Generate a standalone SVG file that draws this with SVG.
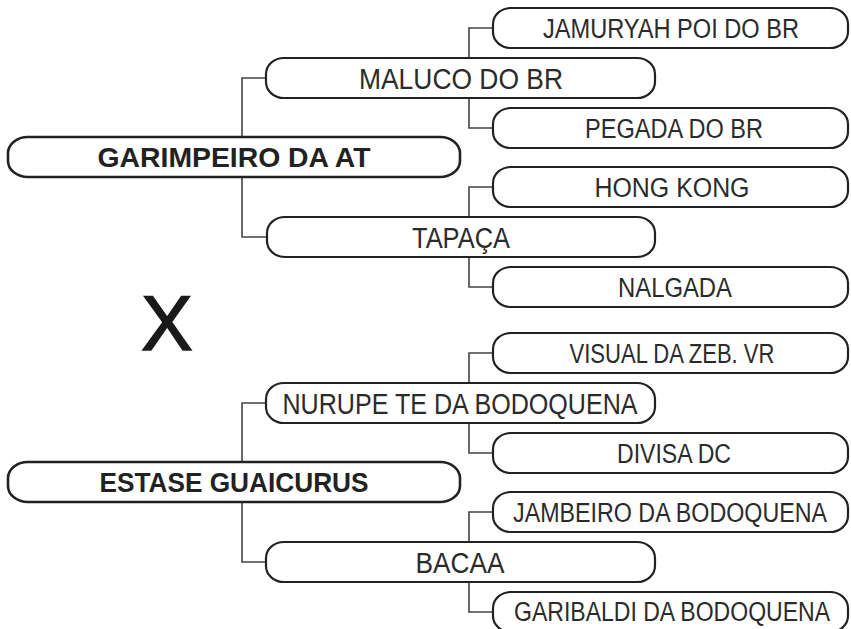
<svg xmlns="http://www.w3.org/2000/svg" width="851" height="629" viewBox="0 0 851 629">
<style>
.box{fill:#fff;stroke:#222;stroke-width:2.2}
.main{fill:#fff;stroke:#222;stroke-width:2.6}
.con{fill:none;stroke:#444;stroke-width:1.6}
text{font-family:"Liberation Sans",Arial,sans-serif;text-anchor:middle;fill:#2b2b2b}
.tm{font-size:28px;font-weight:bold;fill:#222}
.t1{font-size:29px}
.t2{font-size:27px}
.x{font-size:77px;fill:#1a1a1a;stroke:#1a1a1a;stroke-width:1.6}
</style>
<rect width="851" height="629" fill="#fff"/>
<g id="connectors">
<path class="con" d="M266,78 H242 V137 M242,177 V237 H267"/>
<path class="con" d="M493,28 H469 V58 M469,98 V128 H493"/>
<path class="con" d="M493,187 H469 V217 M469,257 V287 H493"/>
<path class="con" d="M266,403 H242 V462 M242,502 V562 H266"/>
<path class="con" d="M493,353 H469 V383 M469,423 V453 H493"/>
<path class="con" d="M493,512 H469 V542 M469,582 V612 H493"/>
</g>
<g id="n-garimpeiro"><rect class="main" x="8" y="137" width="452" height="40" rx="20" ry="16"/><text class="tm" x="234" y="167" textLength="273" lengthAdjust="spacingAndGlyphs">GARIMPEIRO DA AT</text></g>
<g id="n-maluco"><rect class="box" x="266" y="58" width="389" height="40" rx="18" ry="16"/><text class="t1" x="461" y="89" textLength="204" lengthAdjust="spacingAndGlyphs">MALUCO DO BR</text></g>
<g id="n-jamuryah"><rect class="box" x="493" y="8" width="355" height="40" rx="18" ry="16"/><text class="t2" x="671" y="38" textLength="256" lengthAdjust="spacingAndGlyphs">JAMURYAH POI DO BR</text></g>
<g id="n-pegada"><rect class="box" x="493" y="108" width="355" height="40" rx="18" ry="16"/><text class="t2" x="674" y="138" textLength="178" lengthAdjust="spacingAndGlyphs">PEGADA DO BR</text></g>
<g id="n-tapaca"><rect class="box" x="267" y="217" width="388" height="40" rx="18" ry="16"/><text class="t1" x="461" y="248" textLength="98" lengthAdjust="spacingAndGlyphs">TAPAÇA</text></g>
<g id="n-hongkong"><rect class="box" x="493" y="167" width="355" height="40" rx="18" ry="16"/><text class="t2" x="672" y="197" textLength="155" lengthAdjust="spacingAndGlyphs">HONG KONG</text></g>
<g id="n-nalgada"><rect class="box" x="493" y="267" width="355" height="40" rx="18" ry="16"/><text class="t2" x="675" y="297" textLength="114" lengthAdjust="spacingAndGlyphs">NALGADA</text></g>
<text class="x" x="167" y="350">X</text>
<g id="n-estase"><rect class="main" x="8" y="462" width="452" height="40" rx="20" ry="16"/><text class="tm" x="234" y="492" textLength="269" lengthAdjust="spacingAndGlyphs">ESTASE GUAICURUS</text></g>
<g id="n-nurupe"><rect class="box" x="266" y="383" width="389" height="40" rx="18" ry="16"/><text class="t1" x="460" y="414" textLength="355" lengthAdjust="spacingAndGlyphs">NURUPE TE DA BODOQUENA</text></g>
<g id="n-visual"><rect class="box" x="493" y="333" width="355" height="40" rx="18" ry="16"/><text class="t2" x="672" y="363" textLength="205" lengthAdjust="spacingAndGlyphs">VISUAL DA ZEB. VR</text></g>
<g id="n-divisa"><rect class="box" x="493" y="433" width="355" height="40" rx="18" ry="16"/><text class="t2" x="674" y="463" textLength="114" lengthAdjust="spacingAndGlyphs">DIVISA DC</text></g>
<g id="n-bacaa"><rect class="box" x="266" y="542" width="389" height="40" rx="18" ry="16"/><text class="t1" x="460" y="573" textLength="89" lengthAdjust="spacingAndGlyphs">BACAA</text></g>
<g id="n-jambeiro"><rect class="box" x="493" y="492" width="355" height="40" rx="18" ry="16"/><text class="t2" x="670" y="522" textLength="314" lengthAdjust="spacingAndGlyphs">JAMBEIRO DA BODOQUENA</text></g>
<g id="n-garibaldi"><rect class="box" x="493" y="592" width="355" height="40" rx="18" ry="16"/><text class="t2" x="672" y="621" textLength="316" lengthAdjust="spacingAndGlyphs">GARIBALDI DA BODOQUENA</text></g>
</svg>
